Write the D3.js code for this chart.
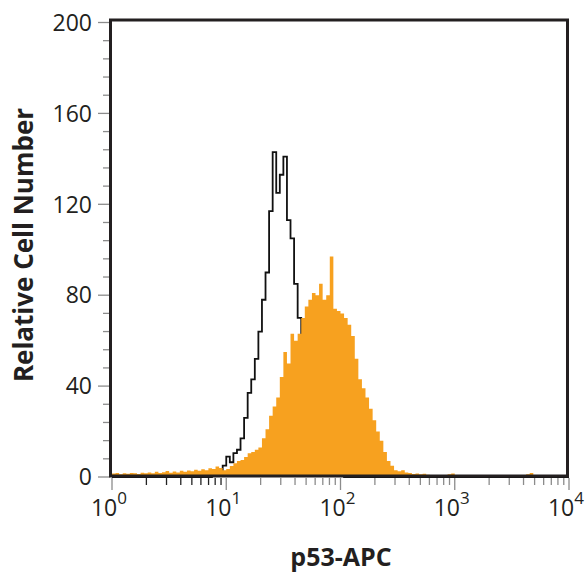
<!DOCTYPE html>
<html>
<head>
<meta charset="utf-8">
<script src="https://cdn.jsdelivr.net/npm/d3@7/dist/d3.min.js"></script>
<style>
  html, body { margin: 0; padding: 0; background: #fff; }
  svg { display: block; }
</style>
</head>
<body>
<svg id="chart" width="585" height="575"></svg>
<script>
// ---- data ----
const binsPerDecade = 32;              // 128 log-spaced channels over 10^0..10^4
const decadeTicks = [1, 10, 100, 1000, 10000];
const decadeExponents = ["0", "1", "2", "3", "4"];
const yTickValues = [0, 40, 80, 120, 160, 200];
const xTitle = "p53-APC";
const yTitle = "Relative Cell Number";

// p53-APC stained (orange filled histogram)
const p53Counts = [
  1.5, 1.8, 1.2, 1.6, 1.4, 1.8, 1.6, 1.3, 1.9,
  1.7, 2.0, 1.6, 2.3, 1.8, 2.1, 2.6, 1.9,
  2.4, 2.0, 2.7, 2.3, 2.9, 2.5, 3.2, 2.8,
  3.4, 3.0, 3.9, 3.5, 4.6,
  4.0, 3.0, 3.5, 4.8, 6.0, 7.0, 7.5, 8.8, 10.5, 11.0, 12.0, 13.0,
  17, 21, 27, 31, 35, 44, 55, 50, 63, 60, 63,
  70, 75, 78, 81, 80, 85, 78, 80, 97, 74, 73,
  72, 70, 67, 62, 52, 43, 39, 35, 30, 25, 20,
  16, 11, 7, 5, 3, 2.5, 3, 2, 1.8, 1.3, 1.5, 1.2, 1.4, 1.0, 0.8,
  0, 0, 0, 0,
  1.2, 1.5,
  0, 0, 0, 0, 0, 0, 0, 0, 0, 0, 0, 0, 0, 0, 0, 0, 0, 0, 0, 0,
  1.2, 1.8,
  0, 0, 0, 0, 0, 0, 0, 0, 0, 0
];

// isotype control (black outline histogram)
const isotypeCounts = [
  0, 0, 0, 0, 0, 0, 0, 0, 0, 0, 0, 0, 0, 0, 0, 0, 0, 0, 0, 0,
  0, 0, 0, 0, 0, 0, 0, 0, 0.8,
  1, 2.5, 5, 9, 6.5, 10.5, 12, 17, 26, 37, 43, 52, 64, 78, 90, 117,
  143, 125, 133, 141, 113, 105, 85, 70, 62, 50, 40, 30, 22, 15, 10,
  7, 5, 3, 2, 1,
  0, 0, 0, 0, 0, 0, 0, 0, 0, 0, 0, 0, 0, 0, 0, 0, 0, 0, 0, 0,
  0, 0, 0, 0, 0, 0, 0, 0, 0, 0, 0, 0, 0, 0, 0, 0, 0, 0, 0, 0,
  0, 0, 0, 0, 0, 0, 0, 0, 0, 0, 0, 0, 0, 0, 0, 0, 0, 0, 0, 0,
  0, 0, 0
];

// ---- drawing ----
const svg = d3.select("#chart");
const x = d3.scaleLog().domain([1, 10000]).range([112, 569]);
const y = d3.scaleLinear().domain([0, 200]).range([477, 22.5]);

function toPoints(counts) {
  const pts = counts.map((v, i) => ({ e: Math.pow(10, i / binsPerDecade), v }));
  pts.push({ e: 10000, v: counts[counts.length - 1] });
  return pts;
}

const orange = "#f7a11f";
const ink = "#231f20";

// isotype outline (beneath)
svg.append("path")
  .datum(toPoints(isotypeCounts))
  .attr("fill", "none")
  .attr("stroke", "#111")
  .attr("stroke-width", 1.8)
  .attr("d", d3.line().curve(d3.curveStepAfter).x(d => x(d.e)).y(d => y(d.v)));

// p53 filled histogram
svg.append("path")
  .datum(toPoints(p53Counts))
  .attr("fill", orange)
  .attr("stroke", "none")
  .attr("d", d3.area().curve(d3.curveStepAfter).x(d => x(d.e)).y0(y(0)).y1(d => y(d.v)));

// y ticks
const yMinor = d3.range(0, 201, 8).filter(v => yTickValues.indexOf(v) < 0);
svg.append("g").selectAll("line").data(yMinor).join("line")
  .attr("x1", 103).attr("x2", 110).attr("y1", d => y(d)).attr("y2", d => y(d))
  .attr("stroke", "#8c8c8c").attr("stroke-width", 1.3);
svg.append("g").selectAll("line").data(yTickValues).join("line")
  .attr("x1", 98).attr("x2", 110).attr("y1", d => y(d)).attr("y2", d => y(d))
  .attr("stroke", "#8c8c8c").attr("stroke-width", 1.3);
svg.append("g").selectAll("text").data(yTickValues).join("text")
  .attr("x", 92).attr("y", d => y(d)).attr("dy", "0.36em")
  .attr("text-anchor", "end")
  .attr("font-family", "Open Sans, sans-serif").attr("font-size", 23)
  .attr("fill", ink)
  .text(d => d);

// x ticks
const xMinor = [];
decadeTicks.slice(0, 4).forEach(d => { for (let k = 2; k <= 9; k++) xMinor.push(d * k); });
svg.append("g").selectAll("line").data(xMinor).join("line")
  .attr("x1", d => x(d)).attr("x2", d => x(d)).attr("y1", 478).attr("y2", 485)
  .attr("stroke", d => d < 10 ? "#222" : "#8c8c8c").attr("stroke-width", 1.3);
svg.append("g").selectAll("line").data(decadeTicks).join("line")
  .attr("x1", d => x(d)).attr("x2", d => x(d)).attr("y1", 478).attr("y2", 490)
  .attr("stroke", "#8c8c8c").attr("stroke-width", 1.3);
const xl = svg.append("g").selectAll("text").data(decadeTicks).join("text")
  .attr("x", d => x(d) - 3).attr("y", 516)
  .attr("text-anchor", "middle")
  .attr("font-family", "Open Sans, sans-serif").attr("font-size", 23)
  .attr("fill", ink);
xl.append("tspan").text("10");
xl.append("tspan").attr("dy", -12).attr("font-size", 17).text((d, i) => decadeExponents[i]);

// frame
svg.append("rect")
  .attr("x", 110.5).attr("y", 20).attr("width", 457).attr("height", 456)
  .attr("fill", "none").attr("stroke", ink).attr("stroke-width", 3);

// titles
svg.append("text")
  .attr("x", 341).attr("y", 566).attr("text-anchor", "middle")
  .attr("font-family", "Open Sans, sans-serif").attr("font-weight", "bold")
  .attr("font-size", 25).attr("fill", ink)
  .text(xTitle);
svg.append("text")
  .attr("transform", "translate(33,245) rotate(-90)")
  .attr("text-anchor", "middle")
  .attr("font-family", "Open Sans, sans-serif").attr("font-weight", "bold")
  .attr("font-size", 26).attr("fill", ink)
  .text(yTitle);
</script>
</body>
</html>
